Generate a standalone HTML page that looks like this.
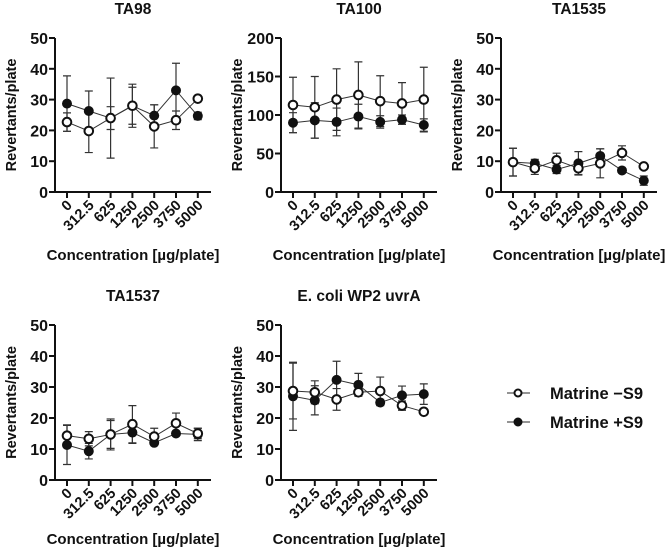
<!DOCTYPE html>
<html><head><meta charset="utf-8"><style>
body{margin:0;background:#fff;}
svg text{font-family:"Liberation Sans",Arial,sans-serif;font-weight:bold;fill:#111;}
</style></head><body>
<svg id="c" width="666" height="553" xmlns="http://www.w3.org/2000/svg"></svg>
<script>
const categories=["0","312.5","625","1250","2500","3750","5000"];
const titles=["TA98","TA100","TA1535","TA1537","E. coli WP2 uvrA"];
const yMaxes=[50,200,50,50,50];
const yTickVals=[[0,10,20,30,40,50],[0,50,100,150,200],[0,10,20,30,40,50],[0,10,20,30,40,50],[0,10,20,30,40,50]];
const minusS9=[[22.7,19.8,24,28,21.3,23.3,30.3],[113,110,120,126,118,115,120],[9.7,7.7,10.3,7.7,9.3,12.7,8.3],[14.3,13.3,14.7,18,14,18.3,15],[28.7,28.3,26,28.3,28.7,24,22]];
const minusS9Err=[[3,7,3.7,7,7,3,0.5],[36,40,40,43,33,27,42],[4.5,2,2.3,2,4.7,2.3,0.5],[3.5,2.3,4.5,6,2.7,3.3,1.7],[9,3.7,3.5,1,4.5,1.5,0.5]];
const plusS9=[[28.7,26.3,24,28,24.8,33,24.7],[90,93,91,98,91,94,87],[9.7,9.3,7.3,9.3,11.7,7,3.7],[11.3,9.3,14.7,15.3,12,15,14.7],[27,25.7,32.3,30.7,25,27.3,27.7]];
const plusS9Err=[[9,6.5,13,6,3.5,8.8,1.2],[13,23,18,16,8,6,8],[4.5,1.3,1.3,3.8,2.3,0.7,1.5],[6.3,2.5,5,3.5,0.5,0.5,2],[11,4.7,6,3.7,1,3,3.3]];
const layout=[{x0:55,top:38,bot:192,tb:14,xb:260,yt:6},{x0:281,top:38,bot:192,tb:14,xb:260,yt:232},{x0:501,top:38,bot:192,tb:14,xb:260,yt:452},{x0:55,top:325,bot:480,tb:301,xb:544,yt:6},{x0:281,top:325,bot:480,tb:301,xb:544,yt:232}];
const svg=document.getElementById('c');
const NS="http://www.w3.org/2000/svg";
function mk(tag,attrs,txt){const e=document.createElementNS(NS,tag);for(const k in attrs)e.setAttribute(k,attrs[k]);if(txt!==undefined)e.textContent=txt;return e;}
titles.forEach((t,p)=>{
  const L=layout[p];
  const g=mk('g',{});
  
  
  svg.appendChild(g);
  const xs=i=>L.x0+12+i*21.8;
  const ys=v=>L.bot-(v/yMaxes[p])*(L.bot-L.top);
  const tt=mk('text',{x:L.x0+78,y:L.tb,'text-anchor':'middle','font-size':'15.5'},t);
  
  
  g.appendChild(tt);
  const ax=mk('path',{d:`M${L.x0},${L.top} V${L.bot} H${L.x0+156}`,stroke:'#111','stroke-width':'2',fill:'none'});
  
  
  g.appendChild(ax);
  yTickVals[p].forEach(v=>{
    g.appendChild(mk('line',{x1:L.x0-6,x2:L.x0,y1:ys(v),y2:ys(v),stroke:'#111','stroke-width':'2'}));
    const tl=mk('text',{x:L.x0-7,y:ys(v)+6,'text-anchor':'end','font-size':'16'},v);
    
    
    g.appendChild(tl);
  });
  categories.forEach((c,i)=>{
    g.appendChild(mk('line',{x1:xs(i),x2:xs(i),y1:L.bot,y2:L.bot+6,stroke:'#111','stroke-width':'2'}));
    const ax_=xs(i)+6, ay_=L.bot+14;
    const xl=mk('text',{x:ax_,y:ay_,'text-anchor':'end','font-size':'14.5',transform:`rotate(-45 ${ax_} ${ay_})`},c);
    
    
    g.appendChild(xl);
  });
  const cy=(L.top+L.bot)/2;
  const yt=mk('text',{x:L.yt+5,y:cy+5,'text-anchor':'middle','font-size':'14.5',transform:`rotate(-90 ${L.yt+5} ${cy})`},'Revertants/plate');
  
  
  g.appendChild(yt);
  const xt=mk('text',{x:L.x0+78,y:L.xb,'text-anchor':'middle','font-size':'15'},'Concentration [µg/plate]');
  
  
  g.appendChild(xt);
  [[plusS9,plusS9Err,true],[minusS9,minusS9Err,false]].forEach(([vals,errs,filled])=>{
    const v=vals[p],e=errs[p];
    v.forEach((d,i)=>{
      const eb=mk('path',{d:`M${xs(i)},${ys(d+e[i])} V${ys(d-e[i])} M${xs(i)-4},${ys(d+e[i])} h8 M${xs(i)-4},${ys(d-e[i])} h8`,stroke:'#333','stroke-width':'1.2',fill:'none'});
      
      
      g.appendChild(eb);
    });
    const ln=mk('polyline',{points:v.map((d,i)=>xs(i)+','+ys(d)).join(' '),stroke:'#333','stroke-width':'1',fill:'none'});
    
    
    g.appendChild(ln);
  });
  [[plusS9,true],[minusS9,false]].forEach(([vals,filled])=>{
    vals[p].forEach((d,i)=>{
      const m=mk('circle',{cx:xs(i),cy:ys(d),r:filled?4.5:4.3,fill:filled?'#111':'#fff',stroke:'#111','stroke-width':filled?'1':'2'});
      
      
      g.appendChild(m);
    });
  });
});
const lg=mk('g',{});


svg.appendChild(lg);
[['Matrine \u2212S9',false,393],['Matrine +S9',true,422]].forEach(([t,f,y])=>{
  const e=mk('g',{});
  
  
  e.appendChild(mk('line',{x1:507,x2:530,y1:y,y2:y,stroke:'#555','stroke-width':'1.2'}));
  e.appendChild(mk('circle',{cx:518,cy:y,r:f?4:3.5,fill:f?'#111':'#fff',stroke:'#111','stroke-width':f?'1':'2'}));
  e.appendChild(mk('text',{x:550,y:y+6,'font-size':'16.5'},t));
  lg.appendChild(e);
});
</script>
</body></html>
